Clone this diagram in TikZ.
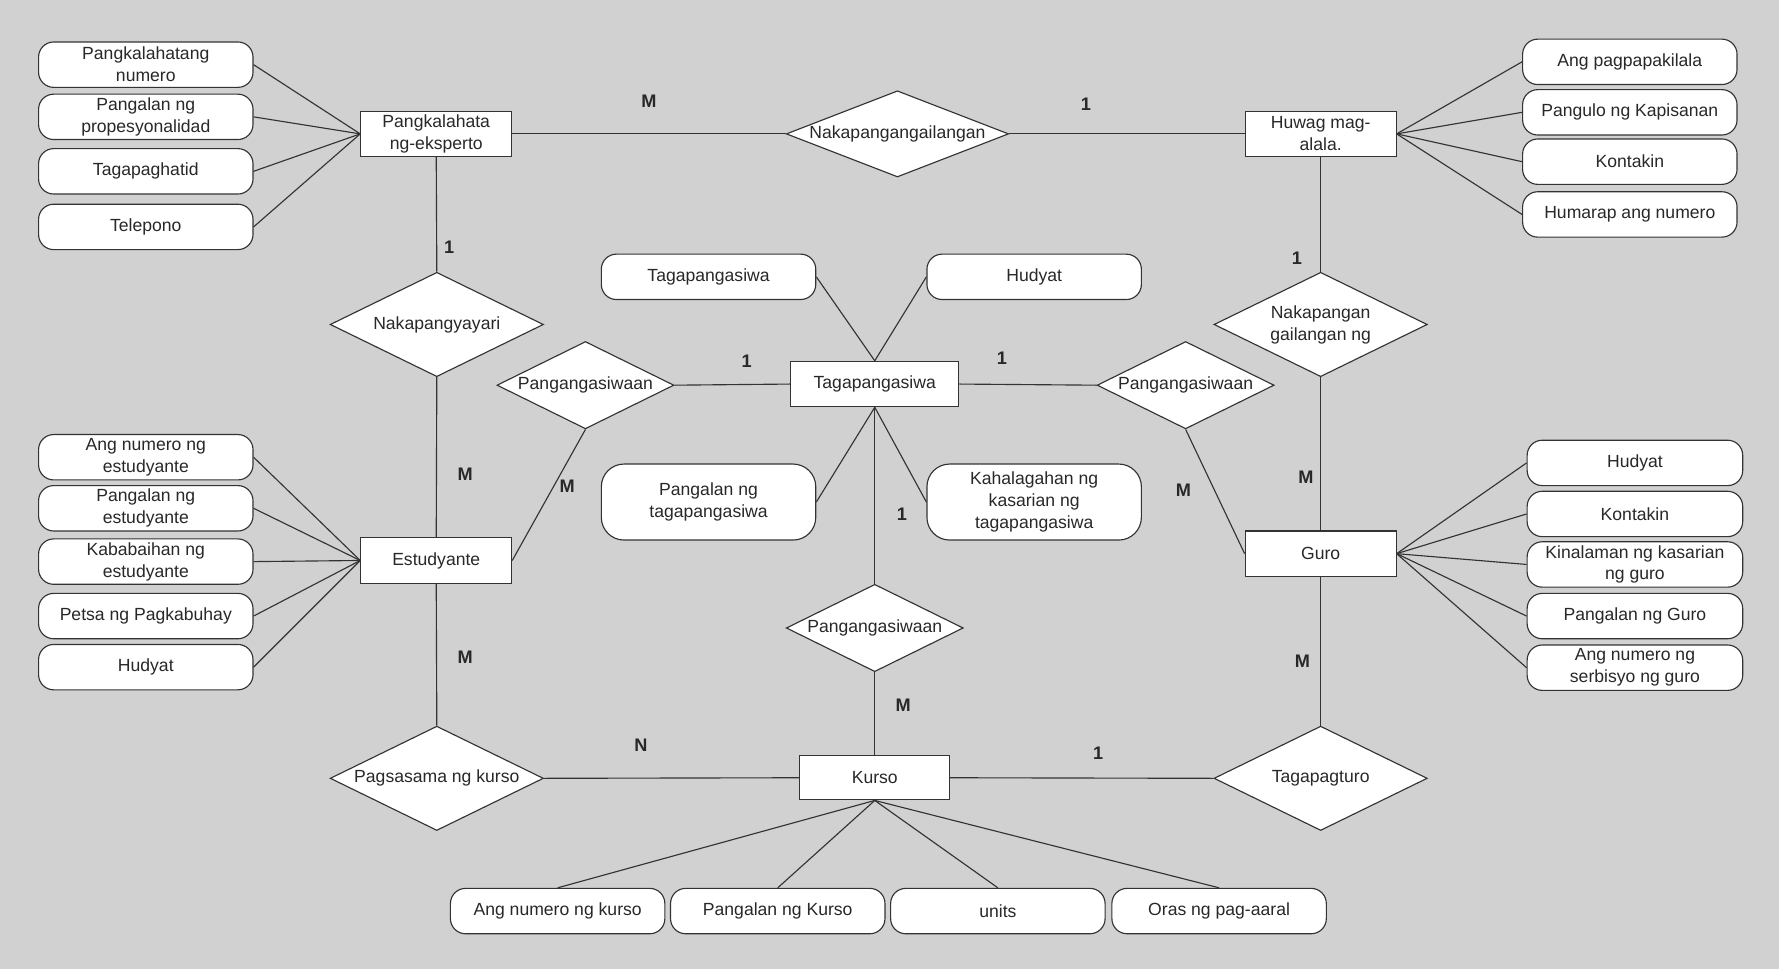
\documentclass[tikz,border=0pt]{standalone}
\usepackage{fontspec}
\setmainfont{Liberation Sans}
\usetikzlibrary{shapes.geometric}
\definecolor{bgc}{RGB}{209,209,209}
\definecolor{edge}{RGB}{51,51,51}
\definecolor{txt}{RGB}{40,40,40}
\begin{document}
\begin{tikzpicture}[x=0.6pt,y=-0.6pt,
  every node/.style={font=\fontsize{9.3}{11.6}\selectfont, text=txt},
  ent/.style={draw=edge, fill=white, line width=0.6pt, minimum width=79.8pt, minimum height=24pt, inner sep=1pt, align=center},
  attr/.style={draw=edge, fill=white, line width=0.6pt, rounded corners=8pt, minimum width=113.4pt, minimum height=24pt, inner sep=1pt, align=center},
  tallattr/.style={attr, minimum height=40.2pt, rounded corners=12pt},
  rel/.style={diamond, draw=edge, fill=white, line width=0.6pt, inner sep=0pt},
  relA/.style={rel, minimum width=117.6pt, minimum height=45.6pt},
  relB/.style={rel, minimum width=112.8pt, minimum height=55.2pt},
  relC/.style={rel, minimum width=93.6pt, minimum height=46.2pt},
  card/.style={font=\fontsize{9.6}{11}\selectfont\bfseries, text=txt},
  conn/.style={draw=edge, line width=0.6pt}]
\fill[bgc] (0,0) rectangle (1568,854);
\useasboundingbox (0,0) rectangle (1568,854);

% entities
\node[ent] (pe) at (384.5,118) {Pangkalahata\\ng-eksperto};
\node[ent] (hm) at (1164,118) {Huwag mag-\\alala.};
\node[ent] (es) at (384.5,494) {Estudyante};
\node[ent] (gu) at (1164,488) {Guro};
\node[ent, minimum width=88.8pt] (tg) at (771,338.5) {Tagapangasiwa};
\node[ent, minimum width=79.2pt, minimum height=23.4pt] (ku) at (771,685.5) {Kurso};

% relationships
\node[relA, label={center:Nakapangangailangan}] (r1) at (791,118) {};
\node[relB, label={center:Nakapangyayari}] (r2) at (385,286) {};
\node[relB, label={center:Pagsasama ng kurso}] (r3) at (385,686) {};
\node[relB, label={center:Tagapagturo}] (r4) at (1164,686) {};
\node[relB, label={[align=center]center:Nakapangan\\gailangan ng}] (r5) at (1164,286) {};
\node[relC, label={center:Pangangasiwaan}] (r6) at (516,339.5) {};
\node[relC, label={center:Pangangasiwaan}] (r7) at (1045,339.5) {};
\node[relC, label={center:Pangangasiwaan}] (r8) at (771,553.5) {};

% attributes of Pangkalahata ng-eksperto
\node[attr] (pe1) at (128.5,57) {Pangkalahatang\\numero};
\node[attr] (pe2) at (128.5,103) {Pangalan ng\\propesyonalidad};
\node[attr] (pe3) at (128.5,151) {Tagapaghatid};
\node[attr] (pe4) at (128.5,200) {Telepono};

% attributes of Huwag mag-alala
\node[attr] (hm1) at (1436.5,54.5) {Ang pagpapakilala};
\node[attr] (hm2) at (1436.5,99) {Pangulo ng Kapisanan};
\node[attr] (hm3) at (1436.5,142.5) {Kontakin};
\node[attr] (hm4) at (1436.5,189) {Humarap ang numero};

% attributes of Estudyante
\node[attr] (es1) at (128.5,403) {Ang numero ng\\estudyante};
\node[attr] (es2) at (128.5,448) {Pangalan ng\\estudyante};
\node[attr] (es3) at (128.5,495) {Kababaihan ng\\estudyante};
\node[attr] (es4) at (128.5,543) {Petsa ng Pagkabuhay};
\node[attr] (es5) at (128.5,588) {Hudyat};

% attributes of Guro
\node[attr, minimum width=114pt] (gu1) at (1441,408) {Hudyat};
\node[attr, minimum width=114pt] (gu2) at (1441,453) {Kontakin};
\node[attr, minimum width=114pt] (gu3) at (1441,497.5) {Kinalaman ng kasarian\\ng guro};
\node[attr, minimum width=114pt] (gu4) at (1441,543) {Pangalan ng Guro};
\node[attr, minimum width=114pt] (gu5) at (1441,588.5) {Ang numero ng\\serbisyo ng guro};

% attributes of Tagapangasiwa
\node[attr] (tg1) at (624.5,244) {Tagapangasiwa};
\node[attr] (tg2) at (911.5,244) {Hudyat};
\node[tallattr] (tg3) at (624.5,442.5) {Pangalan ng\\tagapangasiwa};
\node[tallattr] (tg4) at (911.5,442.5) {Kahalagahan ng\\kasarian ng\\tagapangasiwa};

% attributes of Kurso
\node[attr] (ku1) at (491.5,803) {Ang numero ng kurso};
\node[attr] (ku2) at (685.5,803) {Pangalan ng Kurso};
\node[attr] (ku3) at (879.5,803) {units};
\node[attr] (ku4) at (1074.5,803) {Oras ng pag-aaral};

% connectors between entities and relationships
\draw[conn] (pe.east) -- (r1.west);
\draw[conn] (r1.east) -- (hm.west);
\draw[conn] (pe.south) -- (r2.north);
\draw[conn] (r2.south) -- (es.north);
\draw[conn] (es.south) -- (r3.north);
\draw[conn] (r3.east) -- (ku.west);
\draw[conn] (ku.east) -- (r4.west);
\draw[conn] (r4.north) -- (gu.south);
\draw[conn] (gu.north) -- (r5.south);
\draw[conn] (r5.north) -- (hm.south);
\draw[conn] (r6.east) -- (tg.west);
\draw[conn] (r6.south) -- (es.east);
\draw[conn] (tg.east) -- (r7.west);
\draw[conn] (r7.south) -- (gu.west);
\draw[conn] (tg.south) -- (r8.north);
\draw[conn] (r8.south) -- (ku.north);

% attribute connectors
\foreach \i in {1,...,4} \draw[conn] (pe\i.east) -- (pe.west);
\foreach \i in {1,...,4} \draw[conn] (hm.east) -- (hm\i.west);
\foreach \i in {1,...,5} \draw[conn] (es\i.east) -- (es.west);
\foreach \i in {1,...,5} \draw[conn] (gu.east) -- (gu\i.west);
\foreach \i in {1,...,4} \draw[conn] (ku.south) -- (ku\i.north);
\draw[conn] (tg1.east) -- (tg.north);
\draw[conn] (tg2.west) -- (tg.north);
\draw[conn] (tg3.east) -- (tg.south);
\draw[conn] (tg4.west) -- (tg.south);

% cardinalities
\node[card] (c1) at (572,89) {M};
\node[card] (c2) at (957,92) {1};
\node[card] (c3) at (396,218) {1};
\node[card] (c4) at (410,418) {M};
\node[card] (c5) at (410,579) {M};
\node[card] (c6) at (565,657) {N};
\node[card] (c7) at (968,664) {1};
\node[card] (c8) at (1148,583) {M};
\node[card] (c9) at (1151,421) {M};
\node[card] (c10) at (1143,228) {1};
\node[card] (c11) at (658,318) {1};
\node[card] (c12) at (500,429) {M};
\node[card] (c13) at (883,316) {1};
\node[card] (c14) at (1043,432) {M};
\node[card] (c15) at (795,453) {1};
\node[card] (c16) at (796,622) {M};
\end{tikzpicture}
\end{document}
